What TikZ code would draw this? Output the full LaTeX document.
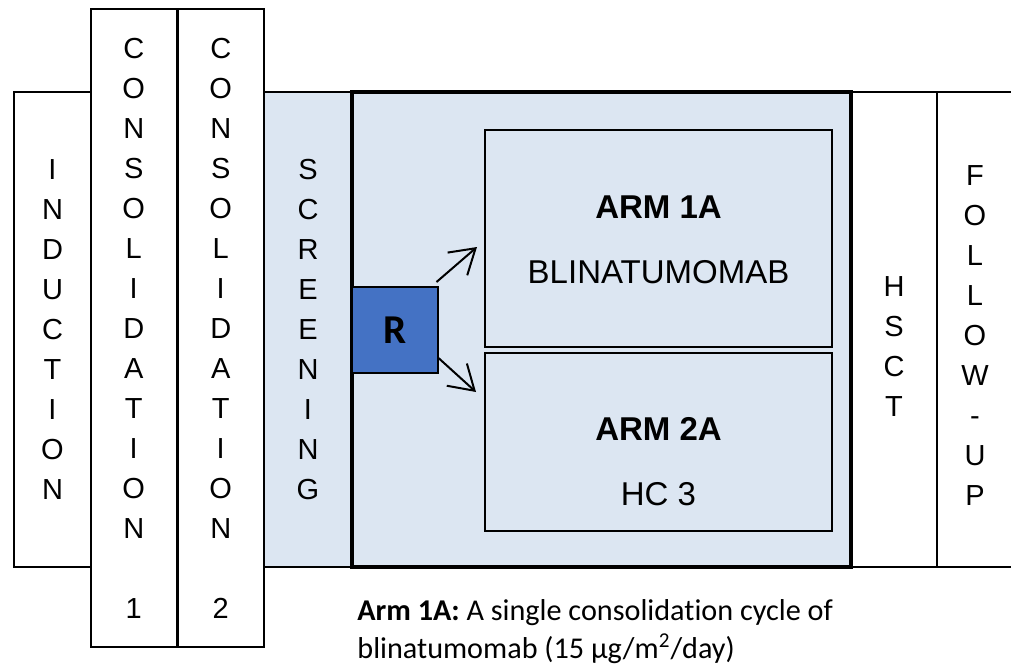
\documentclass[tikz,border=0pt]{standalone}
\usepackage{fontspec}
\setmainfont{Liberation Sans}
\newfontfamily\calibri[Ligatures=NoCommon]{Carlito}
\usetikzlibrary{arrows.meta}
\definecolor{armblue}{HTML}{DCE6F2}
\definecolor{randblue}{HTML}{4472C4}
\tikzset{
  phase/.style={draw, line width=1pt, inner sep=0pt, outer sep=0pt, align=center,
    font=\fontsize{14.5}{20}\selectfont},
  phasetext/.style={align=center, inner sep=0pt, font=\fontsize{14.5}{20}\selectfont},
  armbox/.style={draw, line width=1pt, fill=armblue, inner sep=0pt, minimum width=173.5pt},
  armtext/.style={align=center, inner sep=0pt, font=\fontsize{16.5}{20}\selectfont},
  arr/.style={line width=1pt, -{Straight Barb[length=12pt,width=15pt]}}
}

\begin{document}
\begin{tikzpicture}[x=0.5pt, y=-0.5pt]
\useasboundingbox (0,0) rectangle (1011,671);
% before randomisation
\node[phase, minimum width=38.5pt, minimum height=237.5pt] (induction) at (52.5,329.5)
  {I\\N\\D\\U\\C\\T\\I\\O\\N};
\node[phase, fill=armblue, minimum width=44pt, minimum height=237.5pt] (screening) at (308,329.5)
  {S\\C\\R\\E\\E\\N\\I\\N\\G};
\node[phase, minimum width=42.75pt, minimum height=319pt] (cons1) at (133.75,328)
  {C\\O\\N\\S\\O\\L\\I\\D\\A\\T\\I\\O\\N\\[20pt]1};
\node[phase, minimum width=43.25pt, minimum height=319pt] (cons2) at (220.75,328)
  {C\\O\\N\\S\\O\\L\\I\\D\\A\\T\\I\\O\\N\\[20pt]2};
% randomisation
\node[draw, line width=1.75pt, fill=armblue, inner sep=0pt,
  minimum width=249.5pt, minimum height=237.5pt] (rand) at (601.5,329.5) {};
\node[armbox, minimum height=108.5pt] (arm1) at (658.5,238.5) {};
\node[armtext] (arm1text) at (658.5,240) {\textbf{ARM 1A}\\[12.5pt]BLINATUMOMAB};
\node[armbox, minimum height=89pt] (arm2) at (658.5,442) {};
\node[armtext] (arm2text) at (658.5,461.5) {\textbf{ARM 2A}\\[12.5pt]HC 3};
\node[draw, line width=1pt, fill=randblue, inner sep=0pt, minimum width=42.75pt,
  minimum height=43pt, font=\calibri\bfseries\fontsize{20.5}{24}\selectfont] (R) at (394.75,330) {R};
\coordinate (tip1) at (477,247);
\coordinate (tip2) at (476,392);
\draw[arr] ([shift={(-1pt,2pt)}]R.north east) -- (tip1);
\draw[arr] ([yshift=-14pt]R.east) -- (tip2);
% after randomisation
\node[phase, minimum width=43pt, minimum height=237.5pt] (hsct) at (894,329.5) {};
\node[phasetext] (hscttext) at (894,347) {H\\S\\C\\T};
\node[minimum width=37pt, minimum height=237.5pt, inner sep=0pt] (follow) at (974,329.5) {};
\node[phasetext] (followtext) at (975,336) {F\\O\\L\\L\\O\\W\\-\\U\\P};
\draw[line width=1pt] (follow.north east) -- (follow.north west) -- (follow.south west) -- (follow.south east);
% footnote
\node[anchor=base west, inner sep=0pt, font=\calibri\fontsize{15.1}{18}\selectfont] (note1) at (357,620)
  {\textbf{Arm 1A:} A single consolidation cycle of};
\node[anchor=base west, inner sep=0pt, font=\calibri\fontsize{15.1}{18}\selectfont] (note2) at (357,658)
  {blinatumomab (15 µg/m\textsuperscript{2}/day)};
\end{tikzpicture}
\end{document}
